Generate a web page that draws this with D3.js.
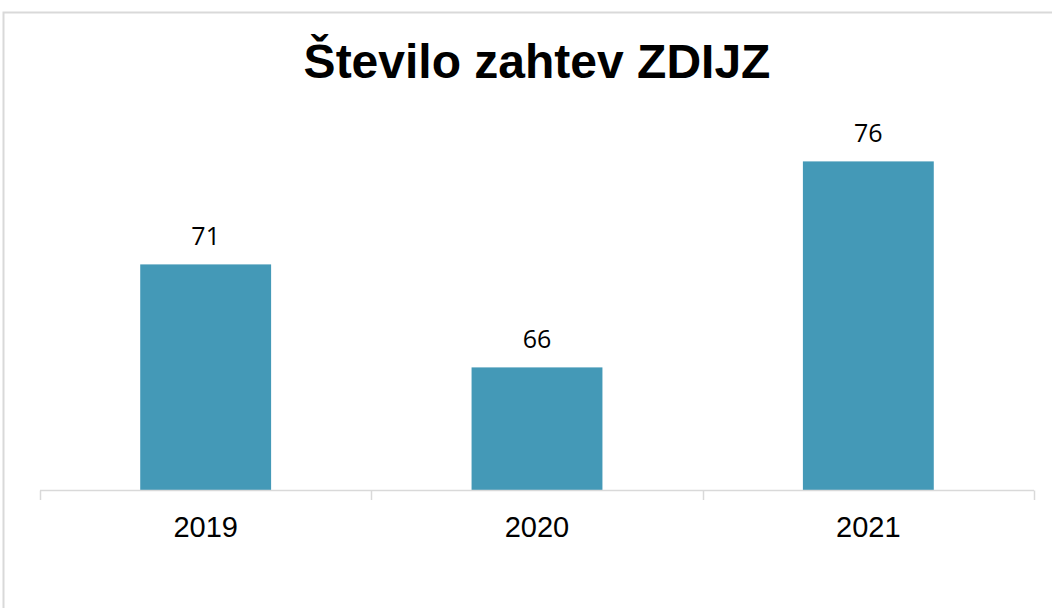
<!DOCTYPE html>
<html>
<head>
<meta charset="utf-8">
<script src="https://cdn.jsdelivr.net/npm/d3@7"></script>
<style>
    body { margin: 0; background: #fff; }
    svg { display: block; }
</style>
</head>
<body>
<div id="chart"></div>
<script>
// data
const years = ['2019', '2020', '2021'];
const requests = [71, 66, 76];
const chartTitle = 'Število zahtev ZDIJZ';

const width = 1052, height = 608;

let svg = d3.select('#chart')
    .append('svg')
    .attr('width', width)
    .attr('height', height);

// chart area border (cut off at right/bottom like the screenshot)
svg.append('rect')
    .attr('x', 3.5)
    .attr('y', 12.5)
    .attr('width', 1100)
    .attr('height', 700)
    .attr('fill', 'none')
    .attr('stroke', '#d9d9d9')
    .attr('stroke-width', 2);

svg.append('text')
    .attr('x', 537)
    .attr('y', 78)
    .attr('text-anchor', 'middle')
    .attr('font-family', 'Liberation Sans, Arial, sans-serif')
    .attr('font-weight', 'bold')
    .attr('font-size', 48)
    .attr('fill', '#000')
    .text(chartTitle);

let x = d3.scaleBand()
    .domain(years)
    .range([40, 1034])
    .paddingInner(0.605)
    .paddingOuter(0.3025);

// same bands with no padding, for the category divider ticks
let xCat = d3.scaleBand()
    .domain(years)
    .range([40, 1034]);

let y = d3.scaleLinear()
    .domain([60, 80])
    .range([491, 79]);

svg.append('g')
    .selectAll('rect')
    .data(years)
    .join('rect')
    .attr('x', d => x(d))
    .attr('y', (d, i) => y(requests[i]))
    .attr('width', x.bandwidth())
    .attr('height', (d, i) => y(60) - y(requests[i]))
    .attr('fill', '#4499b7');

// x axis: line, divider ticks and labels
let axis = svg.append('g');
axis.append('line')
    .attr('x1', 40)
    .attr('x2', 1034)
    .attr('y1', y(60) - 0.5)
    .attr('y2', y(60) - 0.5)
    .attr('stroke', '#d9d9d9')
    .attr('stroke-width', 1.5);

let edges = years.map(d => xCat(d)).concat([xCat(years[years.length - 1]) + xCat.bandwidth()]);
axis.selectAll('line.tick')
    .data(edges)
    .join('line')
    .attr('class', 'tick')
    .attr('x1', d => Math.round(d) + 0.5)
    .attr('x2', d => Math.round(d) + 0.5)
    .attr('y1', y(60) - 0.5)
    .attr('y2', y(60) + 9)
    .attr('stroke', '#d9d9d9')
    .attr('stroke-width', 1.5);

axis.selectAll('text')
    .data(years)
    .join('text')
    .attr('x', d => x(d) + x.bandwidth() / 2)
    .attr('y', 537)
    .attr('text-anchor', 'middle')
    .attr('font-family', 'Liberation Sans, Arial, sans-serif')
    .attr('font-size', 29)
    .attr('fill', '#000')
    .text(d => d);

// value labels above bars
svg.append('g')
    .selectAll('text')
    .data(years)
    .join('text')
    .attr('x', d => x(d) + x.bandwidth() / 2)
    .attr('y', (d, i) => y(requests[i]) - 19)
    .attr('text-anchor', 'middle')
    .attr('font-family', 'Open Sans, sans-serif')
    .attr('font-size', 25)
    .attr('fill', '#000')
    .text((d, i) => requests[i]);
</script>
</body>
</html>
